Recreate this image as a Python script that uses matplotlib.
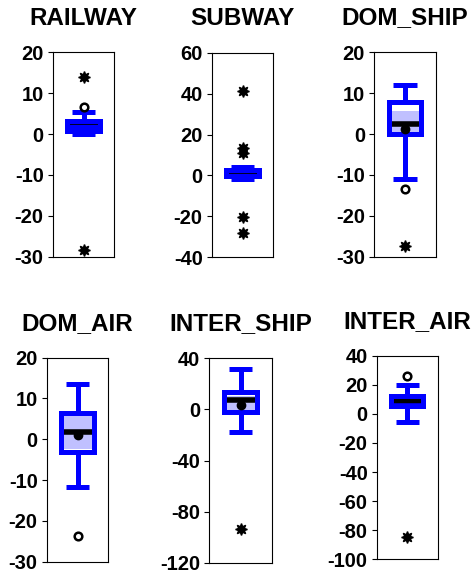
import matplotlib
matplotlib.use("Agg")
import matplotlib.pyplot as plt

plt.rcParams["font.family"] = ["Liberation Sans", "DejaVu Sans"]

# ---- data -------------------------------------------------------------
titles = ["RAILWAY", "SUBWAY", "DOM_SHIP", "DOM_AIR", "INTER_SHIP", "INTER_AIR"]

q1 = [0.8, -0.5, -0.1, -3.0, -2.0, 5.4]
median = [2.45, 1.1, 2.5, 1.9, 7.4, 8.7]
q3 = [3.3, 2.5, 7.9, 6.5, 13.9, 12.6]
whisker_low = [0.0, -1.8, -11.1, -11.6, -17.4, -5.9]
whisker_high = [5.4, 4.3, 12.0, 13.5, 31.9, 19.7]
mean = [None, None, 1.3, 1.0, 3.4, None]
# shaded band drawn inside the box
band_low = [0.8, -0.5, 0.3, -2.4, -0.5, 5.4]
band_high = [3.3, 2.5, 5.6, 5.9, 10.5, 12.6]

mild_outliers = [[6.6], [], [-13.4], [-23.7], [], [26.2]]
extreme_outliers = [[14.0, -28.4], [41.4, 13.3, 11.1, -20.1, -27.9],
                    [-27.3], [], [-93.9], [-84.4]]

y_limits = [(-30, 20), (-40, 60), (-30, 20), (-30, 20), (-120, 40), (-100, 40)]
y_ticks = [list(range(-30, 21, 10)), list(range(-40, 61, 20)),
           list(range(-30, 21, 10)), list(range(-30, 21, 10)),
           list(range(-120, 41, 40)), list(range(-100, 41, 20))]

# ---- layout (pixel boxes: left, top, right, bottom) ---------------------
W, H = 473, 570
boxes_px = [(52.7, 52.3, 114.3, 256.7), (211.7, 52.7, 273.3, 257.3),
            (374.0, 52.3, 436.0, 256.7), (46.7, 357.7, 108.3, 561.7),
            (209.3, 358.3, 271.7, 562.7), (376.7, 355.7, 437.7, 559.3)]
median_lw = [1.2, 1.2, 4.0, 4.0, 4.0, 3.2]

BLUE = "#0000ff"
BAND = "#c0c0ff"
band_colors = [BLUE, BLUE, BAND, BAND, BAND, BLUE]
LW = 3.6

fig = plt.figure(figsize=(W / 100, H / 100), dpi=100)

for i, title in enumerate(titles):
    l, t, r, b = boxes_px[i]
    ax = fig.add_axes([l / W, 1 - b / H, (r - l) / W, (b - t) / H])

    stats = [dict(med=median[i], q1=q1[i], q3=q3[i],
                  whislo=whisker_low[i], whishi=whisker_high[i], fliers=[])]
    ax.bxp(stats, positions=[1], widths=1.04, capwidths=0.75,
           patch_artist=True, showfliers=False,
           boxprops=dict(facecolor="none", edgecolor=BLUE, linewidth=LW,
                         zorder=3),
           whiskerprops=dict(color=BLUE, linewidth=LW, solid_capstyle="butt",
                             zorder=3),
           capprops=dict(color=BLUE, linewidth=LW, solid_capstyle="butt",
                         zorder=3),
           medianprops=dict(color="black", linewidth=median_lw[i],
                            solid_capstyle="butt", zorder=2))

    # shaded band inside the box
    ax.fill_between([0.48, 1.52], band_low[i], band_high[i],
                    color=band_colors[i], linewidth=0, zorder=1)

    if mean[i] is not None:
        ax.plot([1], [mean[i]], marker="o", color="black", markersize=6,
                linestyle="none", zorder=4)

    if mild_outliers[i]:
        ax.plot([1] * len(mild_outliers[i]), mild_outliers[i], marker="o",
                markerfacecolor="white", markeredgecolor="black",
                markeredgewidth=1.8, markersize=5.5, linestyle="none", zorder=4)
    if extreme_outliers[i]:
        ax.plot([1] * len(extreme_outliers[i]), extreme_outliers[i],
                marker=(8, 1, 0), color="black", markersize=8.5,
                linestyle="none", zorder=4)

    ax.set_xlim(0, 2)
    ax.set_ylim(*y_limits[i])
    ax.set_xticks([])
    ax.set_yticks(y_ticks[i])
    ax.set_yticklabels([str(v) for v in y_ticks[i]], fontsize=14.5,
                       fontweight="bold")
    ax.tick_params(axis="y", direction="out", length=3.5, width=0.8, pad=3)
    for sp in ax.spines.values():
        sp.set_linewidth(0.8)
        sp.set_color("black")
    ax.set_title(title, fontsize=17.5, fontweight="bold", pad=20)

fig.savefig("out.png", dpi=100)
